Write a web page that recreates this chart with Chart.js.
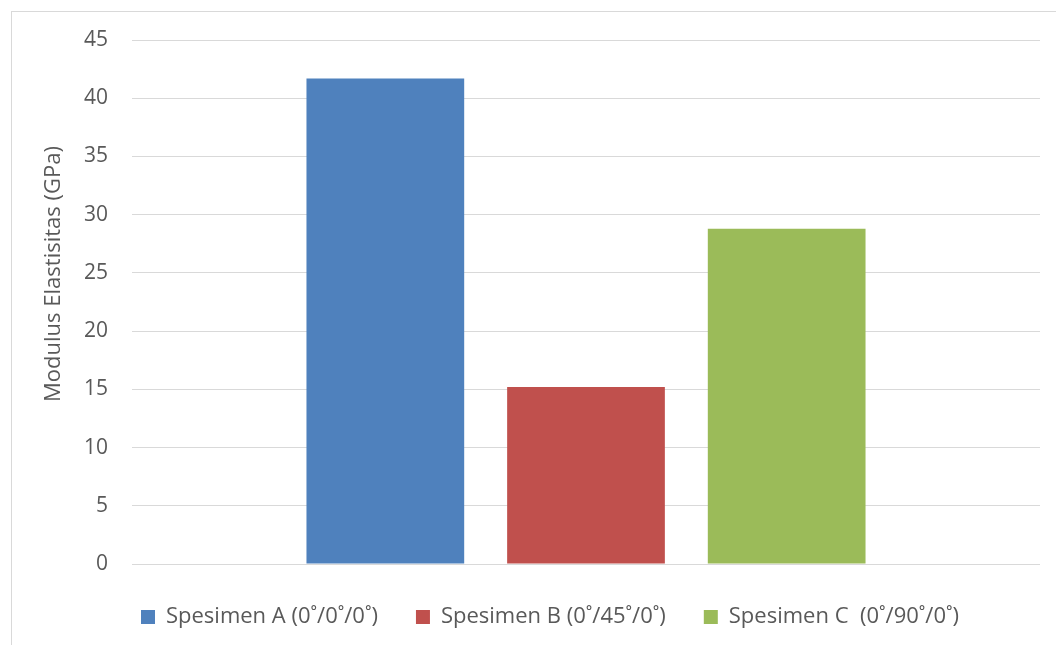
<!DOCTYPE html>
<html>
<head>
<meta charset="utf-8">
<script src="https://cdn.jsdelivr.net/npm/chart.js@4"></script>
<style>
  body { margin: 0; background: #fff; overflow: hidden; }
  #frame { position: absolute; left: 11px; top: 11px; width: 1100px; height: 700px; border: 1px solid #d9d9d9; }
  #wrap { position: absolute; left: 0; top: 0; width: 1056px; height: 645px; }
</style>
</head>
<body>
<div id="frame"></div>
<div id="wrap"><canvas id="myChart" width="1056" height="645"></canvas></div>
<script>
// chart data
var categories = [''];
var seriesNames = ['Spesimen A (0˚/0˚/0˚)', 'Spesimen B (0˚/45˚/0˚)', 'Spesimen C  (0˚/90˚/0˚)'];
var seriesValues = [[41.7], [15.2], [28.8]];
var seriesColors = ['#4F81BD', '#C0504D', '#9BBB59'];
var yTicks = [0, 5, 10, 15, 20, 25, 30, 35, 40, 45];
var yTitle = 'Modulus Elastisitas (GPa)';

var fontFamily = "'Open Sans', 'Noto Sans', sans-serif";

var datasets = seriesNames.map(function (name, i) {
    return {
        label: name,
        data: seriesValues[i],
        backgroundColor: seriesColors[i],
        borderWidth: 0,
        categoryPercentage: 0.663,
        barPercentage: 0.786
    };
});

// y axis title, drawn like Excel (centred a bit above the plot centre)
var axisTitle = {
    id: 'axisTitle',
    afterDraw: function (chart) {
        var c = chart.ctx;
        c.save();
        c.translate(54, 274);
        c.rotate(-Math.PI / 2);
        c.font = '22px ' + fontFamily;
        c.fillStyle = '#595959';
        c.textAlign = 'center';
        c.textBaseline = 'middle';
        c.fillText(yTitle, 0, 0);
        c.restore();
    }
};

var ctx = document.getElementById('myChart').getContext('2d');
new Chart(ctx, {
    type: 'bar',
    data: { labels: categories, datasets: datasets },
    plugins: [axisTitle],
    options: {
        responsive: false,
        animation: false,
        layout: { padding: { left: 60, right: 16, top: 40, bottom: 7 } },
        plugins: {
            tooltip: { enabled: false },
            legend: {
                position: 'bottom',
                labels: {
                    boxWidth: 14,
                    boxHeight: 14,
                    padding: 38,
                    color: '#595959',
                    font: { family: fontFamily, size: 22 }
                }
            }
        },
        scales: {
            x: {
                display: true,
                grid: { display: false },
                border: { display: false },
                ticks: { display: false },
                afterFit: function (axis) { axis.height = 4; }
            },
            y: {
                min: yTicks[0],
                max: yTicks[yTicks.length - 1],
                afterBuildTicks: function (axis) {
                    axis.ticks = yTicks.map(function (v) { return { value: v }; });
                },
                afterFit: function (axis) { axis.width = 72; },
                border: { display: false },
                grid: { color: '#d9d9d9', lineWidth: 1, drawTicks: false },
                ticks: {
                    padding: 24,
                    color: '#595959',
                    font: { family: fontFamily, size: 21 }
                }
            }
        }
    }
});
</script>
</body>
</html>
